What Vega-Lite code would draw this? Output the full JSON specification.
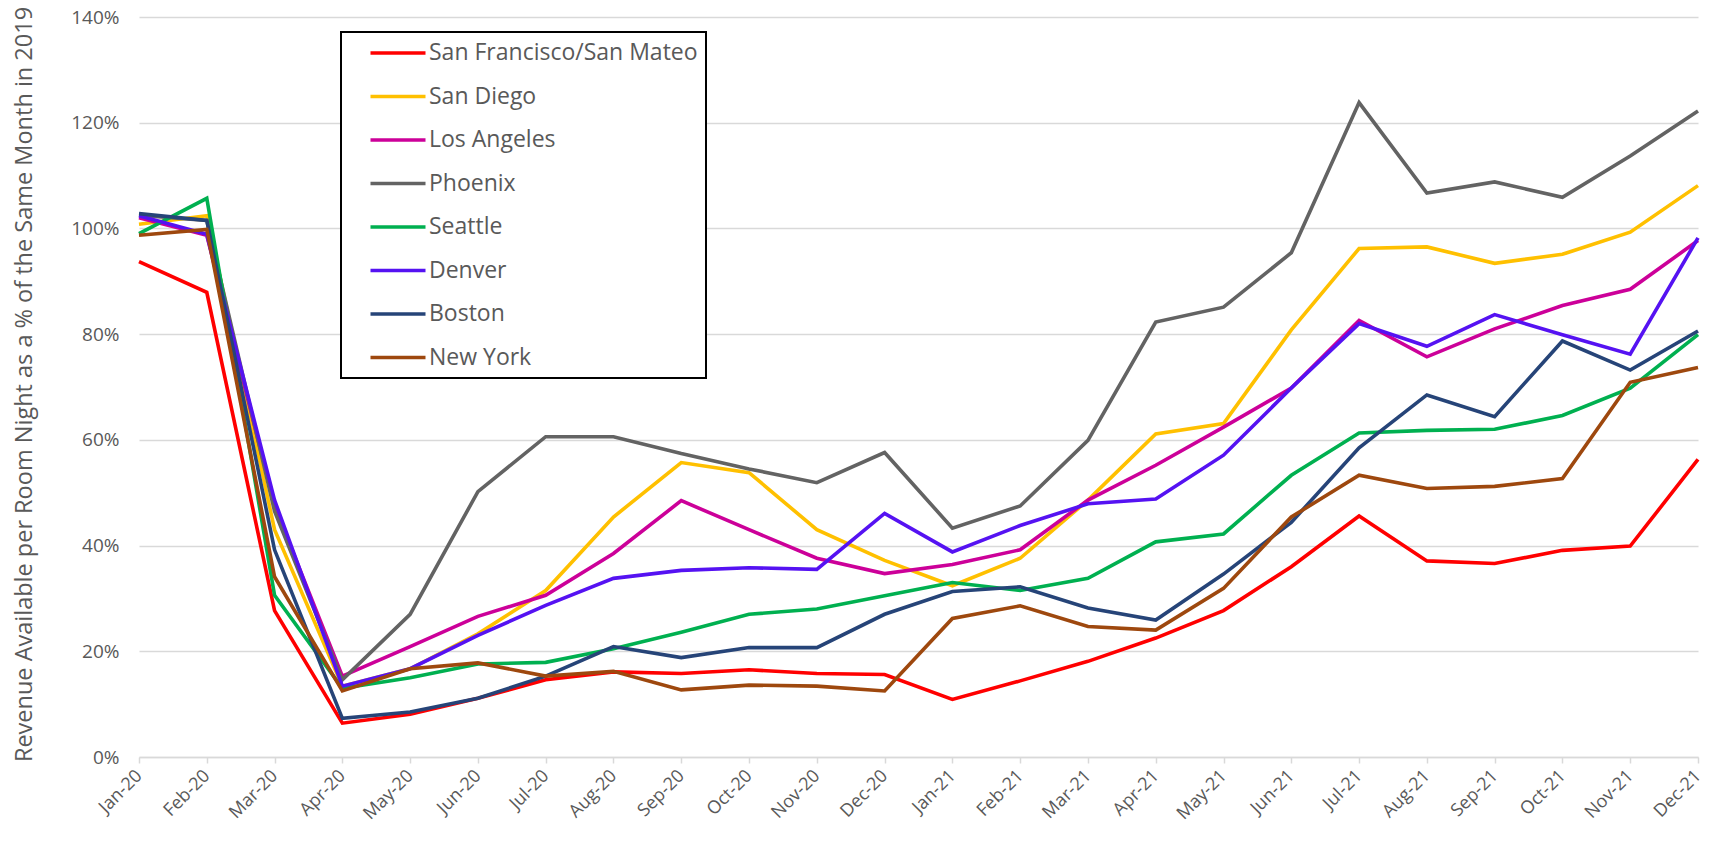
{
  "$schema": "https://vega.github.io/schema/vega-lite/v6.json",
  "autosize": {"type": "none"},
  "width": 1559,
  "height": 740,
  "padding": {"left": 139, "top": 17, "right": 21, "bottom": 91},
  "background": "white",
  "config": {
    "font": "Open Sans",
    "view": {"stroke": null}
  },
  "data": {
    "values": [
      {"m": "Jan-20", "city": "San Francisco/San Mateo", "value": 93.7}, {"m": "Feb-20", "city": "San Francisco/San Mateo", "value": 87.9}, {"m": "Mar-20", "city": "San Francisco/San Mateo", "value": 27.7}, {"m": "Apr-20", "city": "San Francisco/San Mateo", "value": 6.4}, {"m": "May-20", "city": "San Francisco/San Mateo", "value": 8.1}, {"m": "Jun-20", "city": "San Francisco/San Mateo", "value": 11.1}, {"m": "Jul-20", "city": "San Francisco/San Mateo", "value": 14.6}, {"m": "Aug-20", "city": "San Francisco/San Mateo", "value": 16.1}, {"m": "Sep-20", "city": "San Francisco/San Mateo", "value": 15.8}, {"m": "Oct-20", "city": "San Francisco/San Mateo", "value": 16.5}, {"m": "Nov-20", "city": "San Francisco/San Mateo", "value": 15.8}, {"m": "Dec-20", "city": "San Francisco/San Mateo", "value": 15.6}, {"m": "Jan-21", "city": "San Francisco/San Mateo", "value": 10.9}, {"m": "Feb-21", "city": "San Francisco/San Mateo", "value": 14.4}, {"m": "Mar-21", "city": "San Francisco/San Mateo", "value": 18.1}, {"m": "Apr-21", "city": "San Francisco/San Mateo", "value": 22.5}, {"m": "May-21", "city": "San Francisco/San Mateo", "value": 27.7}, {"m": "Jun-21", "city": "San Francisco/San Mateo", "value": 36.0}, {"m": "Jul-21", "city": "San Francisco/San Mateo", "value": 45.6}, {"m": "Aug-21", "city": "San Francisco/San Mateo", "value": 37.1}, {"m": "Sep-21", "city": "San Francisco/San Mateo", "value": 36.6}, {"m": "Oct-21", "city": "San Francisco/San Mateo", "value": 39.1}, {"m": "Nov-21", "city": "San Francisco/San Mateo", "value": 39.9}, {"m": "Dec-21", "city": "San Francisco/San Mateo", "value": 56.3},
      {"m": "Jan-20", "city": "San Diego", "value": 100.8}, {"m": "Feb-20", "city": "San Diego", "value": 102.4}, {"m": "Mar-20", "city": "San Diego", "value": 43.0}, {"m": "Apr-20", "city": "San Diego", "value": 13.4}, {"m": "May-20", "city": "San Diego", "value": 16.7}, {"m": "Jun-20", "city": "San Diego", "value": 23.3}, {"m": "Jul-20", "city": "San Diego", "value": 31.5}, {"m": "Aug-20", "city": "San Diego", "value": 45.4}, {"m": "Sep-20", "city": "San Diego", "value": 55.7}, {"m": "Oct-20", "city": "San Diego", "value": 53.8}, {"m": "Nov-20", "city": "San Diego", "value": 43.0}, {"m": "Dec-20", "city": "San Diego", "value": 37.2}, {"m": "Jan-21", "city": "San Diego", "value": 32.4}, {"m": "Feb-21", "city": "San Diego", "value": 37.6}, {"m": "Mar-21", "city": "San Diego", "value": 48.6}, {"m": "Apr-21", "city": "San Diego", "value": 61.1}, {"m": "May-21", "city": "San Diego", "value": 63.1}, {"m": "Jun-21", "city": "San Diego", "value": 80.8}, {"m": "Jul-21", "city": "San Diego", "value": 96.2}, {"m": "Aug-21", "city": "San Diego", "value": 96.5}, {"m": "Sep-21", "city": "San Diego", "value": 93.4}, {"m": "Oct-21", "city": "San Diego", "value": 95.1}, {"m": "Nov-21", "city": "San Diego", "value": 99.3}, {"m": "Dec-21", "city": "San Diego", "value": 108.1},
      {"m": "Jan-20", "city": "Los Angeles", "value": 102.0}, {"m": "Feb-20", "city": "Los Angeles", "value": 98.7}, {"m": "Mar-20", "city": "Los Angeles", "value": 47.5}, {"m": "Apr-20", "city": "Los Angeles", "value": 15.3}, {"m": "May-20", "city": "Los Angeles", "value": 20.9}, {"m": "Jun-20", "city": "Los Angeles", "value": 26.6}, {"m": "Jul-20", "city": "Los Angeles", "value": 30.6}, {"m": "Aug-20", "city": "Los Angeles", "value": 38.5}, {"m": "Sep-20", "city": "Los Angeles", "value": 48.5}, {"m": "Oct-20", "city": "Los Angeles", "value": 43.0}, {"m": "Nov-20", "city": "Los Angeles", "value": 37.6}, {"m": "Dec-20", "city": "Los Angeles", "value": 34.7}, {"m": "Jan-21", "city": "Los Angeles", "value": 36.4}, {"m": "Feb-21", "city": "Los Angeles", "value": 39.2}, {"m": "Mar-21", "city": "Los Angeles", "value": 48.6}, {"m": "Apr-21", "city": "Los Angeles", "value": 55.2}, {"m": "May-21", "city": "Los Angeles", "value": 62.4}, {"m": "Jun-21", "city": "Los Angeles", "value": 69.8}, {"m": "Jul-21", "city": "Los Angeles", "value": 82.6}, {"m": "Aug-21", "city": "Los Angeles", "value": 75.7}, {"m": "Sep-21", "city": "Los Angeles", "value": 81.0}, {"m": "Oct-21", "city": "Los Angeles", "value": 85.4}, {"m": "Nov-21", "city": "Los Angeles", "value": 88.5}, {"m": "Dec-21", "city": "Los Angeles", "value": 97.7},
      {"m": "Jan-20", "city": "Phoenix", "value": 102.5}, {"m": "Feb-20", "city": "Phoenix", "value": 101.5}, {"m": "Mar-20", "city": "Phoenix", "value": 46.5}, {"m": "Apr-20", "city": "Phoenix", "value": 14.6}, {"m": "May-20", "city": "Phoenix", "value": 27.0}, {"m": "Jun-20", "city": "Phoenix", "value": 50.2}, {"m": "Jul-20", "city": "Phoenix", "value": 60.6}, {"m": "Aug-20", "city": "Phoenix", "value": 60.6}, {"m": "Sep-20", "city": "Phoenix", "value": 57.4}, {"m": "Oct-20", "city": "Phoenix", "value": 54.5}, {"m": "Nov-20", "city": "Phoenix", "value": 51.9}, {"m": "Dec-20", "city": "Phoenix", "value": 57.6}, {"m": "Jan-21", "city": "Phoenix", "value": 43.3}, {"m": "Feb-21", "city": "Phoenix", "value": 47.5}, {"m": "Mar-21", "city": "Phoenix", "value": 59.9}, {"m": "Apr-21", "city": "Phoenix", "value": 82.3}, {"m": "May-21", "city": "Phoenix", "value": 85.1}, {"m": "Jun-21", "city": "Phoenix", "value": 95.4}, {"m": "Jul-21", "city": "Phoenix", "value": 123.8}, {"m": "Aug-21", "city": "Phoenix", "value": 106.7}, {"m": "Sep-21", "city": "Phoenix", "value": 108.8}, {"m": "Oct-21", "city": "Phoenix", "value": 105.9}, {"m": "Nov-21", "city": "Phoenix", "value": 113.7}, {"m": "Dec-21", "city": "Phoenix", "value": 122.2},
      {"m": "Jan-20", "city": "Seattle", "value": 99.0}, {"m": "Feb-20", "city": "Seattle", "value": 105.7}, {"m": "Mar-20", "city": "Seattle", "value": 30.6}, {"m": "Apr-20", "city": "Seattle", "value": 13.0}, {"m": "May-20", "city": "Seattle", "value": 15.0}, {"m": "Jun-20", "city": "Seattle", "value": 17.6}, {"m": "Jul-20", "city": "Seattle", "value": 17.9}, {"m": "Aug-20", "city": "Seattle", "value": 20.5}, {"m": "Sep-20", "city": "Seattle", "value": 23.6}, {"m": "Oct-20", "city": "Seattle", "value": 27.0}, {"m": "Nov-20", "city": "Seattle", "value": 28.0}, {"m": "Dec-20", "city": "Seattle", "value": 30.5}, {"m": "Jan-21", "city": "Seattle", "value": 33.0}, {"m": "Feb-21", "city": "Seattle", "value": 31.5}, {"m": "Mar-21", "city": "Seattle", "value": 33.8}, {"m": "Apr-21", "city": "Seattle", "value": 40.7}, {"m": "May-21", "city": "Seattle", "value": 42.2}, {"m": "Jun-21", "city": "Seattle", "value": 53.3}, {"m": "Jul-21", "city": "Seattle", "value": 61.3}, {"m": "Aug-21", "city": "Seattle", "value": 61.8}, {"m": "Sep-21", "city": "Seattle", "value": 62.0}, {"m": "Oct-21", "city": "Seattle", "value": 64.6}, {"m": "Nov-21", "city": "Seattle", "value": 69.8}, {"m": "Dec-21", "city": "Seattle", "value": 79.9},
      {"m": "Jan-20", "city": "Denver", "value": 102.4}, {"m": "Feb-20", "city": "Denver", "value": 98.9}, {"m": "Mar-20", "city": "Denver", "value": 48.6}, {"m": "Apr-20", "city": "Denver", "value": 13.4}, {"m": "May-20", "city": "Denver", "value": 16.7}, {"m": "Jun-20", "city": "Denver", "value": 23.0}, {"m": "Jul-20", "city": "Denver", "value": 28.7}, {"m": "Aug-20", "city": "Denver", "value": 33.8}, {"m": "Sep-20", "city": "Denver", "value": 35.3}, {"m": "Oct-20", "city": "Denver", "value": 35.8}, {"m": "Nov-20", "city": "Denver", "value": 35.5}, {"m": "Dec-20", "city": "Denver", "value": 46.1}, {"m": "Jan-21", "city": "Denver", "value": 38.8}, {"m": "Feb-21", "city": "Denver", "value": 43.8}, {"m": "Mar-21", "city": "Denver", "value": 47.9}, {"m": "Apr-21", "city": "Denver", "value": 48.8}, {"m": "May-21", "city": "Denver", "value": 57.1}, {"m": "Jun-21", "city": "Denver", "value": 69.8}, {"m": "Jul-21", "city": "Denver", "value": 82.0}, {"m": "Aug-21", "city": "Denver", "value": 77.7}, {"m": "Sep-21", "city": "Denver", "value": 83.7}, {"m": "Oct-21", "city": "Denver", "value": 79.9}, {"m": "Nov-21", "city": "Denver", "value": 76.2}, {"m": "Dec-21", "city": "Denver", "value": 98.2},
      {"m": "Jan-20", "city": "Boston", "value": 102.8}, {"m": "Feb-20", "city": "Boston", "value": 101.5}, {"m": "Mar-20", "city": "Boston", "value": 39.2}, {"m": "Apr-20", "city": "Boston", "value": 7.3}, {"m": "May-20", "city": "Boston", "value": 8.5}, {"m": "Jun-20", "city": "Boston", "value": 11.1}, {"m": "Jul-20", "city": "Boston", "value": 15.3}, {"m": "Aug-20", "city": "Boston", "value": 20.9}, {"m": "Sep-20", "city": "Boston", "value": 18.8}, {"m": "Oct-20", "city": "Boston", "value": 20.7}, {"m": "Nov-20", "city": "Boston", "value": 20.7}, {"m": "Dec-20", "city": "Boston", "value": 27.0}, {"m": "Jan-21", "city": "Boston", "value": 31.3}, {"m": "Feb-21", "city": "Boston", "value": 32.2}, {"m": "Mar-21", "city": "Boston", "value": 28.2}, {"m": "Apr-21", "city": "Boston", "value": 25.9}, {"m": "May-21", "city": "Boston", "value": 34.6}, {"m": "Jun-21", "city": "Boston", "value": 44.4}, {"m": "Jul-21", "city": "Boston", "value": 58.5}, {"m": "Aug-21", "city": "Boston", "value": 68.5}, {"m": "Sep-21", "city": "Boston", "value": 64.4}, {"m": "Oct-21", "city": "Boston", "value": 78.7}, {"m": "Nov-21", "city": "Boston", "value": 73.2}, {"m": "Dec-21", "city": "Boston", "value": 80.6},
      {"m": "Jan-20", "city": "New York", "value": 98.7}, {"m": "Feb-20", "city": "New York", "value": 99.8}, {"m": "Mar-20", "city": "New York", "value": 34.1}, {"m": "Apr-20", "city": "New York", "value": 12.5}, {"m": "May-20", "city": "New York", "value": 16.7}, {"m": "Jun-20", "city": "New York", "value": 17.8}, {"m": "Jul-20", "city": "New York", "value": 15.3}, {"m": "Aug-20", "city": "New York", "value": 16.2}, {"m": "Sep-20", "city": "New York", "value": 12.7}, {"m": "Oct-20", "city": "New York", "value": 13.6}, {"m": "Nov-20", "city": "New York", "value": 13.4}, {"m": "Dec-20", "city": "New York", "value": 12.5}, {"m": "Jan-21", "city": "New York", "value": 26.2}, {"m": "Feb-21", "city": "New York", "value": 28.6}, {"m": "Mar-21", "city": "New York", "value": 24.7}, {"m": "Apr-21", "city": "New York", "value": 24.0}, {"m": "May-21", "city": "New York", "value": 31.9}, {"m": "Jun-21", "city": "New York", "value": 45.4}, {"m": "Jul-21", "city": "New York", "value": 53.3}, {"m": "Aug-21", "city": "New York", "value": 50.8}, {"m": "Sep-21", "city": "New York", "value": 51.2}, {"m": "Oct-21", "city": "New York", "value": 52.7}, {"m": "Nov-21", "city": "New York", "value": 70.9}, {"m": "Dec-21", "city": "New York", "value": 73.7}
    ]
  },
  "mark": {"type": "line", "strokeJoin": "miter", "strokeCap": "butt"},
  "encoding": {
    "x": {
      "field": "m",
      "type": "ordinal",
      "sort": null,
      "scale": {"type": "point", "padding": 0},
      "axis": {
        "title": null,
        "labelAngle": -45,
        "labelAlign": "right",
        "labelBaseline": "middle",
        "labelFontSize": 18,
        "labelColor": "#595959",
        "labelPadding": 10,
        "tickColor": "#D9D9D9",
        "tickSize": 6,
        "tickWidth": 1.5,
        "domainColor": "#D9D9D9",
        "domainWidth": 1.5,
        "grid": false
      }
    },
    "y": {
      "field": "value",
      "type": "quantitative",
      "scale": {"domain": [0, 140], "nice": false},
      "axis": {
        "values": [0, 20, 40, 60, 80, 100, 120, 140],
        "labelExpr": "datum.value + '%'",
        "labelFontSize": 19,
        "labelColor": "#595959",
        "labelPadding": 20,
        "ticks": false,
        "domain": false,
        "gridColor": "#D9D9D9",
        "gridWidth": 1.5,
        "title": "Revenue Available per Room Night as a % of the  Same Month in 2019",
        "titleFontSize": 23.5,
        "titleFontWeight": "normal",
        "titleColor": "#595959",
        "titleX": -115,
        "titleY": 367,
        "titleAngle": 270,
        "titleAlign": "center",
        "titleBaseline": "middle"
      }
    },
    "color": {
      "field": "city",
      "type": "nominal",
      "scale": {
        "domain": ["San Francisco/San Mateo", "San Diego", "Los Angeles", "Phoenix", "Seattle", "Denver", "Boston", "New York"],
        "range": ["#FF0000", "#FFC000", "#CC0099", "#636363", "#00B050", "#5512F2", "#264478", "#9E480E"]
      },
      "legend": {
        "title": null,
        "orient": "none",
        "legendX": 202,
        "legendY": 15,
        "direction": "vertical",
        "fillColor": "white",
        "strokeColor": "black",
        "padding": 8,
        "cornerRadius": 0,
        "symbolType": "M-2.5,0H2.5",
        "symbolSize": 484,
        "symbolStrokeWidth": 4.5,
        "symbolOffset": 36,
        "labelFontSize": 23,
        "labelColor": "#595959",
        "labelOffset": 18,
        "labelLimit": 400,
        "rowPadding": 18.5,
        "encode": {"legend": {"update": {"strokeWidth": {"value": 2}}}}
      }
    },
    "strokeWidth": {
      "field": "city",
      "type": "nominal",
      "scale": {
        "domain": ["San Francisco/San Mateo", "San Diego", "Los Angeles", "Phoenix", "Seattle", "Denver", "Boston", "New York"],
        "range": [3.6, 3.6, 3.6, 3.6, 3.6, 5, 5, 5]
      },
      "legend": null
    }
  }
}
